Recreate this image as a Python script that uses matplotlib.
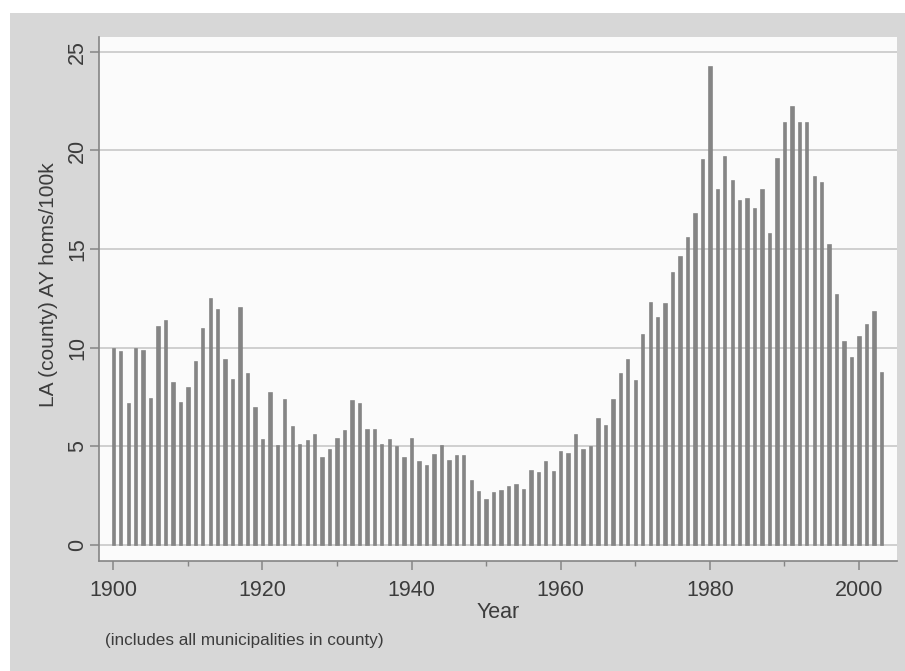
import matplotlib
matplotlib.use("Agg")
import matplotlib.pyplot as plt
from matplotlib.patches import Rectangle

years = list(range(1900, 2004))
rates = [
    10.0, 9.85, 7.2, 10.0, 9.9, 7.45, 11.1, 11.4, 8.25, 7.25,      # 1900-1909
    8.0, 9.35, 11.0, 12.5, 11.95, 9.45, 8.4, 12.05, 8.7, 7.0,      # 1910-1919
    5.35, 7.75, 5.05, 7.4, 6.05, 5.14, 5.3, 5.63, 4.46, 4.85,      # 1920-1929
    5.44, 5.84, 7.36, 7.2, 5.9, 5.9, 5.14, 5.39, 5.0, 4.46,        # 1930-1939
    5.42, 4.24, 4.07, 4.59, 5.08, 4.29, 4.54, 4.54, 3.29, 2.76,    # 1940-1949
    2.31, 2.70, 2.79, 2.99, 3.09, 2.82, 3.80, 3.68, 4.26, 3.75,    # 1950-1959
    4.76, 4.65, 5.63, 4.86, 5.03, 6.42, 6.06, 7.40, 8.70, 9.43,    # 1960-1969
    8.36, 10.69, 12.31, 11.58, 12.25, 13.86, 14.66, 15.62, 16.84, 19.55,  # 1970-1979
    24.29, 18.06, 19.70, 18.52, 17.47, 17.59, 17.09, 18.06, 15.84, 19.63, # 1980-1989
    21.46, 22.24, 21.43, 21.43, 18.70, 18.40, 15.24, 12.71, 10.32, 9.53,  # 1990-1999
    10.57, 11.20, 11.87, 8.77,                                             # 2000-2003
]
xticks = [1900, 1920, 1940, 1960, 1980, 2000]
xminor = [1910, 1930, 1950, 1970, 1990]
yticks = [0, 5, 10, 15, 20, 25]

plt.rcParams['font.family'] = ['Liberation Sans', 'DejaVu Sans']
TXT = '#3c3c3c'
W, H = 905, 671
fig = plt.figure(figsize=(W / 100, H / 100), dpi=100, facecolor='white')
# gray background panel (white margins at top and left)
bg = Rectangle((10 / W, 0), 1 - 10 / W, 1 - 13 / H,
               transform=fig.transFigure, facecolor='#d7d7d7',
               edgecolor='none', zorder=-10)
fig.add_artist(bg)

ax = fig.add_axes([99 / W, 1 - 561 / H, (897 - 99) / W, (561 - 37) / H])
ax.set_zorder(5)
ax.set_facecolor('#fbfbfb')
ax.bar(years, rates, width=0.45, color='#858585', edgecolor='#7a7a7a',
       linewidth=0.4, zorder=3)

ax.set_xlim(1898.08, 2005.1)
ax.set_ylim(-0.81, 25.75)
ax.set_xticks(xticks)
ax.set_xticks(xminor, minor=True)
ax.set_yticks(yticks)
ax.set_yticklabels([str(v) for v in yticks], rotation=90, va='center')
ax.yaxis.grid(True, color='#c4c4c4', linewidth=1.1, zorder=1)
ax.set_axisbelow(True)

for s in ['top', 'right']:
    ax.spines[s].set_visible(False)
for s in ['left', 'bottom']:
    ax.spines[s].set_color('#858585')
    ax.spines[s].set_linewidth(1.2)

ax.tick_params(axis='both', which='major', labelsize=15.5, colors='#858585',
               labelcolor=TXT, length=6.5, width=1.1)
ax.tick_params(axis='x', which='minor', colors='#858585', length=3.5, width=1.0)
ax.tick_params(axis='x', which='major', pad=7)
ax.tick_params(axis='y', which='major', pad=1.5)

ax.set_xlabel('Year', fontsize=15.5, color=TXT, labelpad=1)
ax.set_ylabel('LA (county) AY homs/100k', fontsize=15, color=TXT, labelpad=3)
ax.yaxis.set_label_coords(-0.052, 0.527)

fig.text(105 / W, 1 - 641 / H, '(includes all municipalities in county)',
         fontsize=12.3, color=TXT, ha='left', va='center')

fig.savefig('out.png', dpi=100, facecolor=fig.get_facecolor())
